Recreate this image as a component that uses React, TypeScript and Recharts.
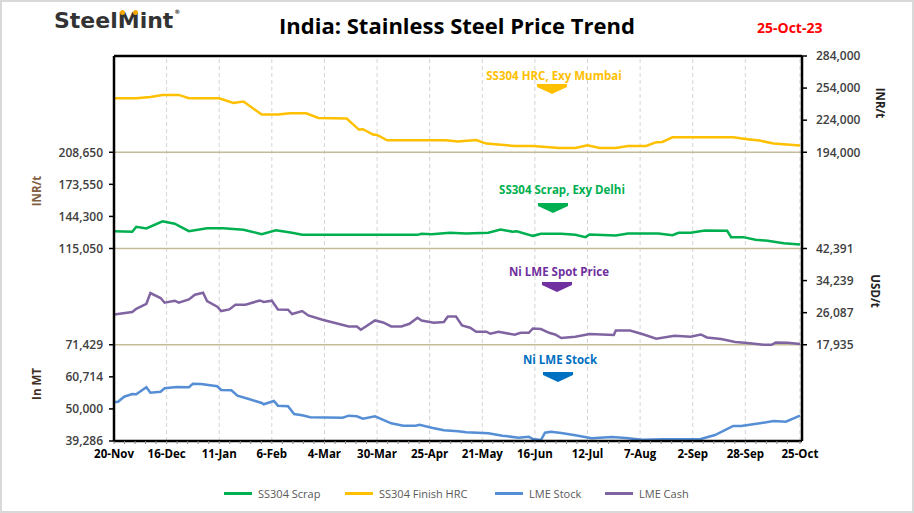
import React from 'react';
import { ComposedChart, Line, XAxis, YAxis, ReferenceLine } from 'recharts';

const FONT = '"Open Sans", Arial, sans-serif';

// x axis: days counted from 20-Nov-22
const xLabelDays = [0, 26, 52, 78, 104, 130, 156, 182, 208, 234, 260, 286, 312, 339];
const xLabels = ['20-Nov', '16-Dec', '11-Jan', '6-Feb', '4-Mar', '30-Mar', '25-Apr', '21-May', '16-Jun', '12-Jul', '7-Aug', '2-Sep', '28-Sep', '25-Oct'];
const minorTickDays = Array.from({ length: 65 }, (_, i) => Math.round(i * 52) / 10);

// the plot is split into 12 equal bands; panel axes label positions on that grid
const leftTickPos = [0, 1, 2, 3, 6, 7, 8, 9];
const leftTickLabels = ['39,286', '50,000', '60,714', '71,429', '115,050', '144,300', '173,550', '208,650'];
const rightTickPos = [3, 4, 5, 6, 9, 10, 11, 12];
const rightTickLabels = ['17,935', '26,087', '34,239', '42,391', '194,000', '224,000', '254,000', '284,000'];
const panelSplits = [3, 6, 9];

// SS304 Finish HRC, Exy Mumbai (INR/t)
const hrcDays = [0, 11, 18, 24, 32, 37, 52, 59, 64, 73, 81, 87, 95, 101, 115, 121, 123, 128, 130, 135, 164, 170, 179, 184, 198, 207, 220, 228, 234, 240, 248, 254, 263, 268, 271, 276, 306, 313, 319, 326, 339];
const hrcValues = [244500, 244500, 245700, 247600, 247600, 244500, 244500, 240100, 241400, 229200, 229200, 230500, 230500, 226100, 225500, 215200, 215500, 210600, 210200, 205200, 205200, 204000, 205500, 202100, 199900, 199900, 198000, 198000, 200500, 198000, 198000, 199900, 199900, 203400, 203600, 208000, 208000, 206200, 204900, 202100, 200300];

// SS304 Scrap, Exy Delhi (INR/t)
const scrapDays = [0, 9, 11, 16, 24, 30, 37, 46, 54, 64, 73, 80, 88, 93, 150, 152, 157, 166, 174, 185, 191, 197, 199, 207, 211, 221, 228, 233, 235, 248, 254, 269, 276, 279, 285, 292, 303, 305, 311, 317, 323, 331, 339];
const scrapValues = [130800, 130300, 134800, 133300, 139900, 137600, 130800, 133600, 133600, 132100, 128100, 131700, 129400, 127500, 127500, 128500, 128100, 129400, 128700, 129400, 132400, 130300, 130800, 126600, 128500, 128500, 127500, 125400, 127800, 126900, 128700, 128700, 127200, 129400, 129400, 131500, 131200, 125400, 125400, 123000, 122100, 119900, 118700];

// Ni LME cash price (USD/t)
const cashDays = [0, 9, 11, 16, 18, 23, 25, 30, 32, 37, 40, 44, 46, 51, 53, 57, 60, 65, 72, 74, 78, 81, 86, 88, 93, 96, 103, 116, 120, 122, 129, 133, 137, 142, 146, 150, 152, 158, 163, 165, 169, 172, 176, 179, 184, 186, 190, 198, 201, 205, 207, 211, 215, 218, 221, 228, 235, 247, 248, 255, 261, 268, 277, 285, 290, 293, 300, 307, 313, 321, 325, 327, 333, 339];
const cashValues = [25630, 26240, 27080, 28350, 31070, 29800, 28610, 29120, 28610, 29450, 30640, 31150, 29040, 27590, 26500, 26910, 28100, 28100, 29190, 28790, 29120, 26910, 26830, 25740, 26500, 25380, 24290, 22590, 22590, 21750, 24110, 23600, 22590, 22590, 23270, 24800, 24110, 23530, 23700, 25130, 25130, 22840, 22260, 21240, 21240, 20730, 21240, 20480, 20980, 20980, 22080, 21920, 20980, 20550, 19640, 19970, 20650, 20400, 21570, 21570, 20650, 19460, 20220, 19970, 20550, 19790, 19380, 18620, 18370, 17940, 17940, 18520, 18440, 18110];

// Ni LME stock (MT)
const stockDays = [0, 2, 5, 9, 11, 16, 18, 23, 25, 31, 37, 39, 43, 51, 53, 58, 61, 67, 73, 74, 79, 81, 86, 89, 93, 97, 113, 116, 120, 123, 129, 137, 143, 149, 151, 157, 163, 170, 174, 185, 192, 200, 205, 207, 211, 213, 216, 221, 228, 236, 246, 253, 261, 271, 290, 297, 306, 310, 320, 326, 332, 339];
const stockValues = [52210, 52410, 54080, 54980, 54880, 57220, 55420, 55750, 56890, 57320, 57220, 58420, 58320, 57560, 56320, 56220, 54420, 53210, 51980, 51540, 52650, 51080, 50880, 48300, 47870, 47200, 47070, 47740, 47540, 46730, 47540, 45200, 44400, 44400, 44730, 43730, 42860, 42530, 42190, 41860, 41060, 40390, 40720, 39950, 39620, 42060, 42390, 41960, 41190, 40190, 40620, 40290, 39720, 39850, 39950, 41290, 44300, 44300, 45300, 45970, 45730, 47740];

const toRows = (days: number[], values: number[]) => days.map((day, i) => ({ day, value: values[i] }));

// each series gets its own scale: the base tick sits on its panel's floor, one step per band
const bandDomain = (base: number, step: number, band: number): [number, number] => [base - band * step, base + (12 - band) * step];

const series = [
  { id: 'hrc', name: 'SS304 Finish HRC', color: '#FFC000', rows: toRows(hrcDays, hrcValues), domain: bandDomain(194000, 30000, 9) },
  { id: 'scrap', name: 'SS304 Scrap', color: '#00B050', rows: toRows(scrapDays, scrapValues), domain: bandDomain(115050, 29250, 6) },
  { id: 'cash', name: 'LME Cash', color: '#8064A2', rows: toRows(cashDays, cashValues), domain: bandDomain(17935, 8152, 3) },
  { id: 'stock', name: 'LME Stock', color: '#558ED5', rows: toRows(stockDays, stockValues), domain: bandDomain(39286, 10714.3, 0) },
];

const legendItems = [
  { name: 'SS304 Scrap', color: '#00B050', x: 224 },
  { name: 'SS304 Finish HRC', color: '#FFC000', x: 345 },
  { name: 'LME Stock', color: '#558ED5', x: 495 },
  { name: 'LME Cash', color: '#8064A2', x: 605 },
];

const callouts = [
  { text: 'SS304 HRC, Exy Mumbai', color: '#FFC000', x: 554, y: 75, ax: 552, ay: 84 },
  { text: 'SS304 Scrap, Exy Delhi', color: '#00B050', x: 562, y: 189, ax: 553, ay: 203 },
  { text: 'Ni LME Spot Price', color: '#7030A0', x: 559, y: 271, ax: 557, ay: 282 },
  { text: 'Ni LME Stock', color: '#0070C0', x: 560, y: 359, ax: 558, ay: 372 },
];

const axisTitles = [
  { text: 'INR/t', x: 36, y: 191, rot: -90, color: '#7F6040' },
  { text: 'In MT', x: 36, y: 384, rot: -90, color: '#3F2F1F' },
  { text: 'INR/t', x: 880, y: 103, rot: 90, color: '#222' },
  { text: 'USD/t', x: 875, y: 291, rot: 90, color: '#222' },
];

const tickStyle = { fill: '#404040', fontSize: 12, fontWeight: 600, fontFamily: FONT };

const xTickLabel = (v: number) => {
  const i = xLabelDays.findIndex((d) => Math.abs(d - v) < 0.5);
  return i >= 0 ? xLabels[i] : '';
};

const abs = (style: React.CSSProperties): React.CSSProperties => ({ position: 'absolute', ...style });

export default function App() {
  return (
    <div style={abs({ left: 0, top: 0, width: 914, height: 513, background: '#fff', fontFamily: FONT })}>
      <ComposedChart width={914} height={513} margin={{ top: 56, right: 52, bottom: 42, left: 54 }}>
        <XAxis
          type="number"
          dataKey="day"
          domain={[0, 340]}
          allowDataOverflow
          ticks={[...minorTickDays, 339]}
          interval={0}
          tickFormatter={xTickLabel}
          tick={{ fill: '#000', fontSize: 11.5, fontWeight: 700, fontFamily: FONT }}
          tickSize={3}
          tickMargin={6}
          axisLine={{ stroke: '#000', strokeWidth: 2.5 }}
          tickLine={{ stroke: '#888' }}
          height={30}
        />
        <YAxis
          yAxisId="pl"
          domain={[0, 12]}
          allowDataOverflow
          ticks={leftTickPos}
          interval={0}
          tickFormatter={(v: number) => leftTickLabels[leftTickPos.indexOf(v)] ?? ''}
          tick={tickStyle}
          tickSize={5}
          tickMargin={6}
          axisLine={{ stroke: '#000', strokeWidth: 2.5 }}
          tickLine={{ stroke: '#000', strokeWidth: 1.5 }}
          width={60}
        />
        <YAxis
          yAxisId="pr"
          orientation="right"
          domain={[0, 12]}
          allowDataOverflow
          ticks={rightTickPos}
          interval={0}
          tickFormatter={(v: number) => rightTickLabels[rightTickPos.indexOf(v)] ?? ''}
          tick={{ ...tickStyle, textAnchor: 'start' }}
          tickSize={5}
          tickMargin={9}
          axisLine={{ stroke: '#000', strokeWidth: 2.5 }}
          tickLine={{ stroke: '#000', strokeWidth: 1.5 }}
          width={60}
        />
        {series.map((s) => (
          <YAxis key={s.id} yAxisId={s.id} hide width={0} domain={s.domain} allowDataOverflow type="number" />
        ))}

        {xLabelDays.slice(1).map((d) => (
          <ReferenceLine key={d} x={d} yAxisId="pl" stroke="#d4d4d4" strokeDasharray="4 3" />
        ))}
        {panelSplits.map((p) => (
          <ReferenceLine key={p} y={p} yAxisId="pl" stroke="#C4BB98" strokeWidth={1.5} />
        ))}
        <ReferenceLine y={12} yAxisId="pl" stroke="#000" strokeWidth={2.5} />

        {series.map((s) => (
          <Line
            key={s.id}
            yAxisId={s.id}
            data={s.rows}
            dataKey="value"
            name={s.name}
            type="linear"
            stroke={s.color}
            strokeWidth={2.5}
            dot={false}
            activeDot={false}
            isAnimationActive={false}
          />
        ))}
      </ComposedChart>

      {/* header */}
      <div style={abs({ left: 54, top: 8, fontFamily: '"DejaVu Sans", sans-serif', fontWeight: 700, fontSize: 22, color: '#333', letterSpacing: 0 })}>
        SteelMint<span style={{ fontSize: 6, verticalAlign: 'top', marginLeft: 1 }}>®</span>
      </div>
      <div style={abs({ left: 120, top: 10, width: 5, height: 5, borderRadius: 3, background: '#F5A800' })} />
      <div style={abs({ left: 133, top: 10, width: 5, height: 5, borderRadius: 3, background: '#F5A800' })} />
      <div style={abs({ left: 0, top: 10, width: 914, textAlign: 'center', fontFamily: FONT, fontWeight: 700, fontSize: 22, color: '#000' })}>
        India: Stainless Steel Price Trend
      </div>
      <div style={abs({ left: 757, top: 18, fontWeight: 700, fontSize: 14, color: '#FF0000' })}>25-Oct-23</div>

      {axisTitles.map((t) => (
        <div
          key={t.text + t.x}
          style={abs({ left: t.x, top: t.y, transform: `translate(-50%, -50%) rotate(${t.rot}deg)`, fontSize: 11.5, fontWeight: 700, color: t.color, whiteSpace: 'nowrap' })}
        >
          {t.text}
        </div>
      ))}

      {callouts.map((c) => (
        <React.Fragment key={c.text}>
          <div style={abs({ left: c.x, top: c.y, transform: 'translate(-50%, -50%)', fontSize: 11.5, fontWeight: 700, color: c.color, whiteSpace: 'nowrap' })}>
            {c.text}
          </div>
          <svg width={30} height={10} style={abs({ left: c.ax - 15, top: c.ay })}>
            <polygon points="0,0 30,0 30,3 15,10 0,3" fill={c.color} />
          </svg>
        </React.Fragment>
      ))}

      {legendItems.map((l) => (
        <div key={l.name} style={abs({ left: l.x, top: 485, height: 16, display: 'flex', alignItems: 'center', whiteSpace: 'nowrap' })}>
          <span style={{ display: 'inline-block', width: 28, height: 3, background: l.color, marginRight: 6 }} />
          <span style={{ fontSize: 11, color: '#595959' }}>{l.name}</span>
        </div>
      ))}

      <div style={abs({ left: 0, top: 0, width: 914, height: 513, boxSizing: 'border-box', border: '2px solid #d9d9d9', pointerEvents: 'none' })} />
    </div>
  );
}
